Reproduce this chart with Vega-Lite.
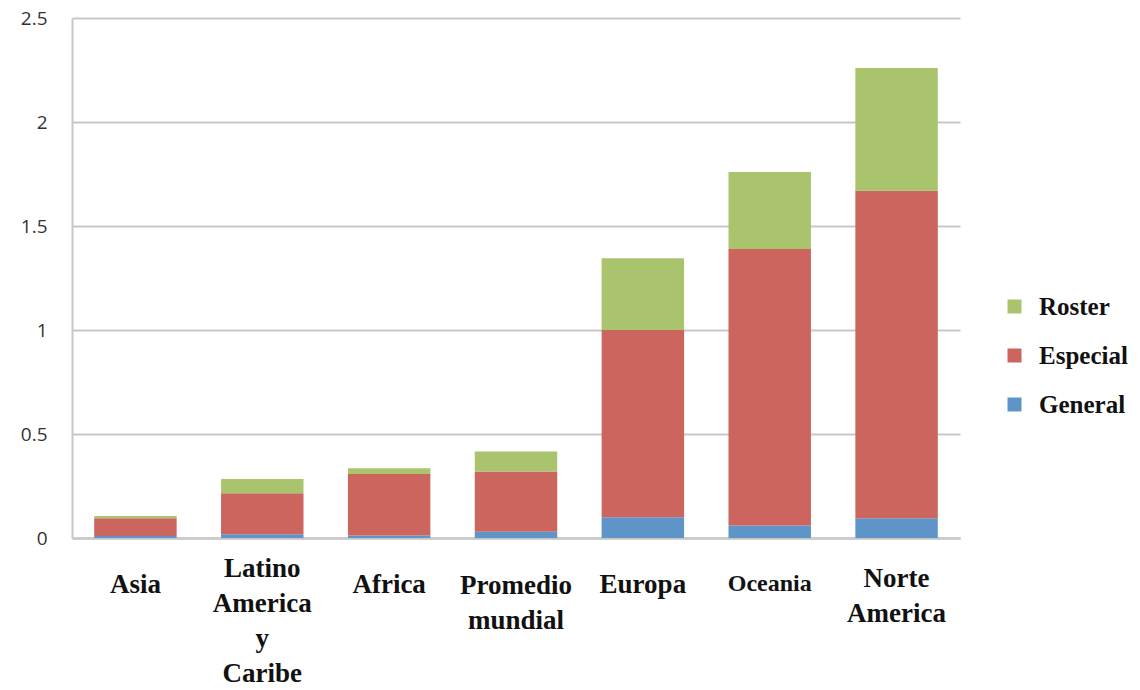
{
  "$schema": "https://vega.github.io/schema/vega-lite/v6.json",
  "width": 888,
  "height": 520,
  "autosize": {"type": "none"},
  "padding": {"left": 72, "top": 18, "right": 180, "bottom": 152},
  "background": "white",
  "data": {"values": [
    {"region": "Asia", "tipo": "General", "valor": 0.01},
    {"region": "Asia", "tipo": "Especial", "valor": 0.085},
    {"region": "Asia", "tipo": "Roster", "valor": 0.011},
    {"region": "Latino|America|y|Caribe", "tipo": "General", "valor": 0.018},
    {"region": "Latino|America|y|Caribe", "tipo": "Especial", "valor": 0.197},
    {"region": "Latino|America|y|Caribe", "tipo": "Roster", "valor": 0.069},
    {"region": "Africa", "tipo": "General", "valor": 0.012},
    {"region": "Africa", "tipo": "Especial", "valor": 0.296},
    {"region": "Africa", "tipo": "Roster", "valor": 0.027},
    {"region": "Promedio|mundial", "tipo": "General", "valor": 0.03},
    {"region": "Promedio|mundial", "tipo": "Especial", "valor": 0.29},
    {"region": "Promedio|mundial", "tipo": "Roster", "valor": 0.096},
    {"region": "Europa", "tipo": "General", "valor": 0.1},
    {"region": "Europa", "tipo": "Especial", "valor": 0.9},
    {"region": "Europa", "tipo": "Roster", "valor": 0.345},
    {"region": "Oceania", "tipo": "General", "valor": 0.06},
    {"region": "Oceania", "tipo": "Especial", "valor": 1.33},
    {"region": "Oceania", "tipo": "Roster", "valor": 0.37},
    {"region": "Norte|America", "tipo": "General", "valor": 0.095},
    {"region": "Norte|America", "tipo": "Especial", "valor": 1.575},
    {"region": "Norte|America", "tipo": "Roster", "valor": 0.59}
  ]},
  "transform": [
    {"calculate": "indexof(['General','Especial','Roster'], datum.tipo)", "as": "orden"}
  ],
  "mark": {"type": "bar"},
  "encoding": {
    "x": {
      "field": "region",
      "type": "nominal",
      "sort": null,
      "scale": {"paddingInner": 0.35, "paddingOuter": 0.175},
      "axis": {
        "title": null,
        "labelAngle": 0,
        "labelExpr": "split(datum.label, '|')",
        "labelFont": "Liberation Serif",
        "labelFontWeight": "bold",
        "labelFontSize": {"condition": {"test": "datum.value == 'Oceania'", "value": 24}, "value": 27},
        "labelColor": "#111111",
        "labelLineHeight": 35,
        "labelBaseline": "top",
        "labelPadding": {"condition": [
          {"test": "datum.value == 'Latino|America|y|Caribe'", "value": 17},
          {"test": "datum.value == 'Norte|America'", "value": 27},
          {"test": "datum.value == 'Promedio|mundial'", "value": 34}
        ], "value": 33},
        "ticks": false,
        "domainColor": "#c8c8c8",
        "domainWidth": 2.5,
        "labelOverlap": false,
        "labelLimit": 200
      }
    },
    "y": {
      "field": "valor",
      "type": "quantitative",
      "stack": "zero",
      "scale": {"domain": [0, 2.5], "nice": false},
      "axis": {
        "title": null,
        "values": [0, 0.5, 1, 1.5, 2, 2.5],
        "format": "~g",
        "labelFont": "Open Sans",
        "labelFontSize": 19,
        "labelColor": "#333333",
        "labelPadding": 25,
        "ticks": false,
        "domain": true,
        "domainColor": "#c8c8c8",
        "domainWidth": 2,
        "gridColor": "#c8c8c8",
        "gridWidth": 2
      }
    },
    "color": {
      "field": "tipo",
      "type": "nominal",
      "scale": {"domain": ["Roster", "Especial", "General"], "range": ["#A9C46C", "#CC655E", "#5F94C8"]},
      "legend": {
        "title": null,
        "orient": "none",
        "legendX": 930,
        "legendY": 276,
        "symbolType": "square",
        "symbolSize": 196,
        "symbolStrokeWidth": 0,
        "labelFont": "Liberation Serif",
        "labelFontWeight": "bold",
        "labelFontSize": 25,
        "labelColor": "#111111",
        "labelOffset": 12,
        "rowPadding": 23
      }
    },
    "order": {"field": "orden", "type": "quantitative"}
  },
  "config": {"view": {"stroke": null}}
}
